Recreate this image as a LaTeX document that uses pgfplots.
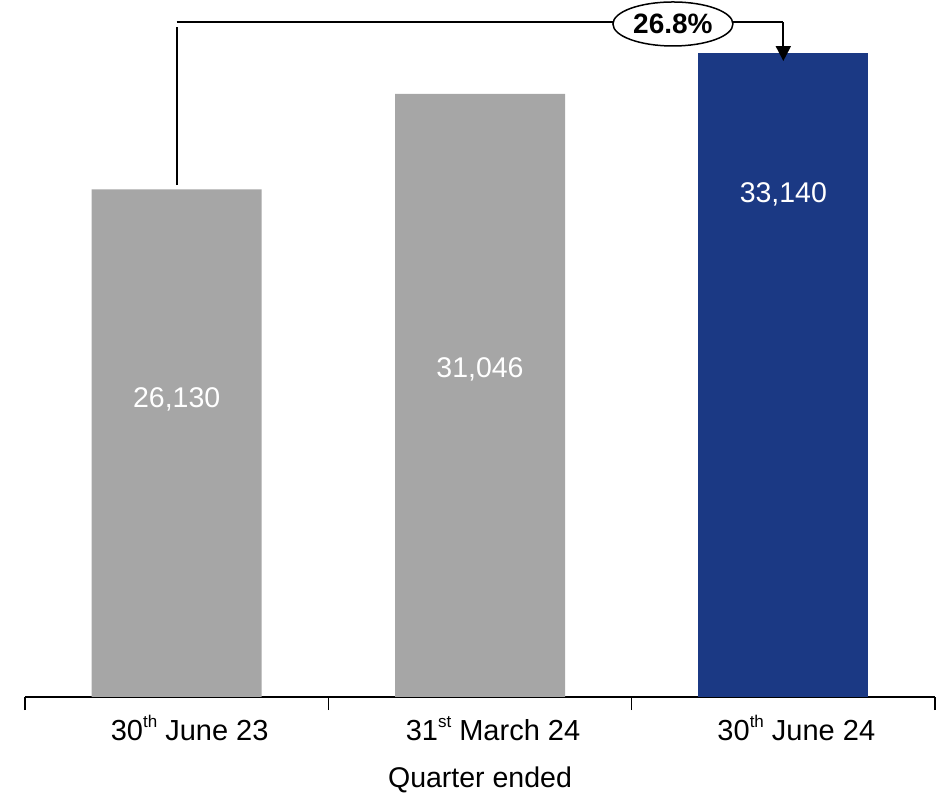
\documentclass[border=0pt]{standalone}
\usepackage{pgfplots}
\pgfplotsset{compat=1.18}
\usepackage{fontspec}
\setmainfont{Liberation Sans}
\usetikzlibrary{shapes.geometric,arrows.meta}
\definecolor{bargray}{RGB}{166,166,166}
\definecolor{barnavy}{RGB}{27,57,132}
\newcommand{\supx}[1]{\raisebox{0.42em}{\fontsize{17}{17}\selectfont #1}}
\begin{document}
\begin{tikzpicture}
\useasboundingbox (0,0) rectangle (945pt,795pt);
\begin{axis}[
  at={(25pt,98pt)}, anchor=south west,
  scale only axis, width=910pt, height=680pt,
  xmin=-0.5, xmax=2.5, ymin=0, ymax=35000,
  axis x line*=bottom, axis y line=none,
  x axis line style={-, line width=1.2pt},
  xtick={0,1,2},
  xticklabels={30\supx{th} June 23, 31\supx{st} March 24, 30\supx{th} June 24},
  major tick length=0pt,
  minor xtick={-0.5,0.5,1.5,2.5},
  minor tick length=13pt,
  tick align=outside,
  minor tick style={line width=1.2pt, black},
  xticklabel style={anchor=base, yshift=-43pt, xshift=13pt, font=\fontsize{29}{34}\selectfont},
  xlabel={Quarter ended},
  xlabel style={at={(axis description cs:0.5,0)}, anchor=base, yshift=-90pt, font=\fontsize{28.5}{34}\selectfont},
  clip=false,
]
\addplot[ybar, bar width=170pt, bar shift=0pt, fill=bargray, draw=none] coordinates {(0,26130) (1,31046)};
\addplot[ybar, bar width=170pt, bar shift=0pt, fill=barnavy, draw=none] coordinates {(2,33140)};
\node[anchor=base, text=white, font=\fontsize{28.5}{34}\selectfont] at (axis cs:0,14875) {26,130};
\node[anchor=base, text=white, font=\fontsize{28.5}{34}\selectfont] at (axis cs:1,16419) {31,046};
\node[anchor=base, text=white, font=\fontsize{28.5}{34}\selectfont] at (axis cs:2,25477) {33,140};
\draw[line width=2pt] (axis cs:0,26352) -- (axis cs:0,34484);
\draw[line width=2.5pt] (axis cs:0,34742) -- (axis cs:2,34742);
\draw[line width=2pt, -{Triangle[width=15pt,length=15pt]}] (axis cs:2,34742) -- (axis cs:2,32734);
\node[ellipse, draw, line width=1.5pt, fill=white, minimum width=120pt, minimum height=44pt, inner sep=0pt, font=\bfseries\fontsize{28}{34}\selectfont] at (axis cs:1.636,34640) {26.8\%};
\end{axis}
\end{tikzpicture}
\end{document}
